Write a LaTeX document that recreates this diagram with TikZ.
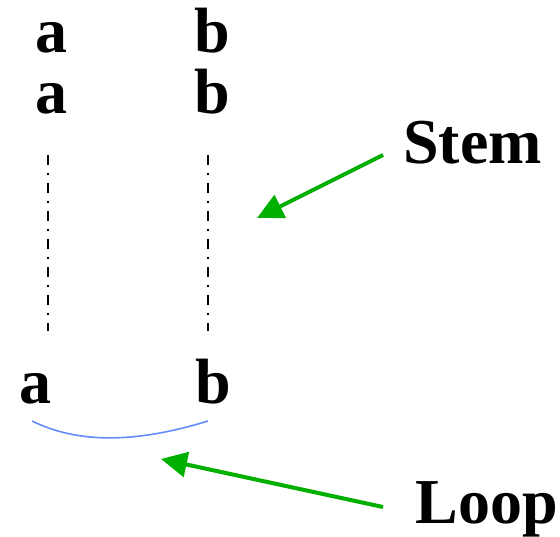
\documentclass[tikz,border=0pt]{standalone}
\usepackage{fontspec}
\setmainfont{Liberation Serif}
\usetikzlibrary{arrows.meta}
\definecolor{arrowgreen}{RGB}{0,176,0}
\definecolor{loopblue}{RGB}{100,140,255}
\begin{document}
\begin{tikzpicture}[x=1pt,y=-1pt,
  letter/.style={font=\fontsize{64}{64}\selectfont\bfseries, inner sep=0pt, anchor=base},
  stemline/.style={line width=2pt, dash pattern=on 10pt off 8pt on 2pt off 8pt},
  pointer/.style={draw=arrowgreen, line width=4pt, -{Triangle[length=26pt,width=25pt]}, arrowgreen},
  loopcurve/.style={draw=loopblue, line width=1.6pt}]
\useasboundingbox (0,0) rectangle (560,536);
% letters
\node[letter] (a1) at (51,52) {a};
\node[letter] (b1) at (212,52) {b};
\node[letter] (a2) at (51,113) {a};
\node[letter] (b2) at (212,113) {b};
\node[letter] (a3) at (35.5,403) {a};
\node[letter] (b3) at (213.5,403) {b};
\node[letter] (stem) at (472.5,163) {Stem};
\node[letter] (loop) at (487,523) {Loop};
% stem lines
\coordinate (la1) at (48,155);
\coordinate (la2) at (48,331);
\coordinate (lb1) at (208,155);
\coordinate (lb2) at (208,331);
\draw[stemline] (la1) -- (la2);
\draw[stemline] (lb1) -- (lb2);
% loop curve
\coordinate (c1) at (32,421);
\coordinate (c2) at (208,421);
\draw[loopcurve] (c1) .. controls (75,442) and (130,445) .. (c2);
% arrows
\coordinate (st) at (383,155);
\coordinate (sh) at (257,218);
\draw[pointer] (st) -- (sh);
\coordinate (lt) at (383,507);
\coordinate (lh) at (161,459);
\draw[pointer] (lt) -- (lh);
\end{tikzpicture}
\end{document}
